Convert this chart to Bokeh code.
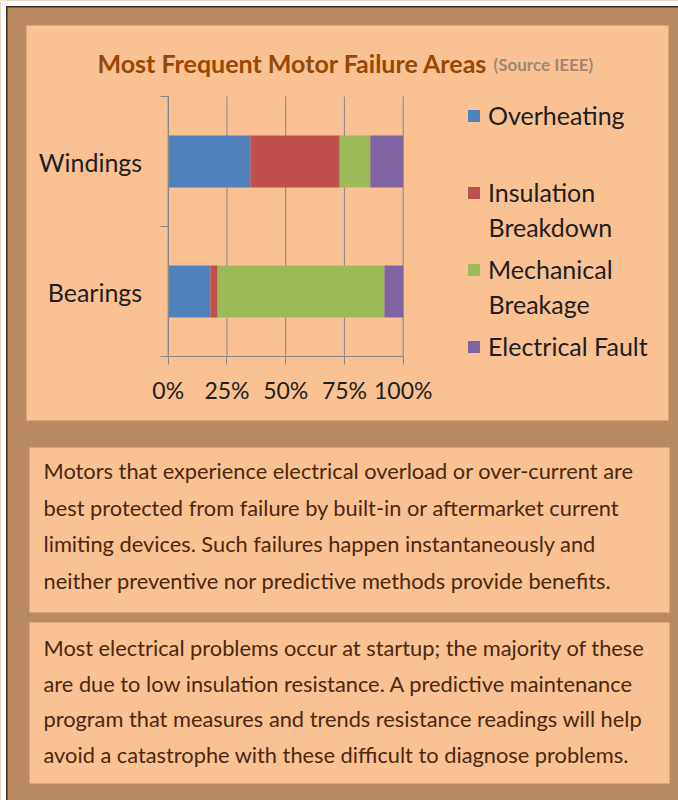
from bokeh.plotting import figure
from bokeh.models import (ColumnDataSource, Range1d, LinearAxis, FixedTicker, BoxAnnotation,
                          Label, Legend, LegendItem)
from bokeh.embed import file_html
from bokeh.resources import INLINE

# ---------------- data ----------------
categories = ["Windings", "Bearings"]
series_keys = ["overheating", "insulation_breakdown", "mechanical_breakage", "electrical_fault"]
overheating = [35, 18]
insulation_breakdown = [38, 3]
mechanical_breakage = [13, 71]
electrical_fault = [14, 8]
series_colors = ["#4F81BD", "#C0504D", "#9BBB59", "#8064A2"]
legend_lines = [["Overheating"], ["Insulation", "Breakdown"], ["Mechanical", "Breakage"], ["Electrical Fault"]]
tick_values = [0, 25, 50, 75, 100]
tick_labels = ["0%", "25%", "50%", "75%", "100%"]
title_text = "Most Frequent Motor Failure Areas"
source_text = "(Source IEEE)"
paragraph_1 = [
    "Motors that experience electrical overload or over-current are",
    "best protected from failure by built-in or aftermarket current",
    "limiting devices. Such failures happen instantaneously and",
    "neither preventive nor predictive methods provide benefits.",
]
paragraph_2 = [
    "Most electrical problems occur at startup; the majority of these",
    "are due to low insulation resistance. A predictive maintenance",
    "program that measures and trends resistance readings will help",
    "avoid a catastrophe with these difficult to diagnose problems.",
]

# ---------------- styles / layout ----------------
BROWN = "#BA8A60"
PEACH = "#FAC192"
GRID = "#868686"
TXT = "#1E1E1E"
PARA = "#4A2810"
TITLE = "#974806"
SOURCE = "#A08772"
FONT = "Lato"

W, H = 678, 800
PL, PR, PT, PB = 167.7, 402.7, 96.0, 356.0      # chart plot area in page pixels
n_cat = len(categories)
xpx = (PR - PL) / (tick_values[-1] - tick_values[0])
ypx = (PB - PT) / n_cat

cat_y = [n_cat - 0.5 - i for i in range(n_cat)]   # band centres, first category on top
edge_ticks = list(range(n_cat + 1))


def sx(x):
    return x


def sy(y):
    return H - y


p = figure(width=W, height=H, min_border=0,
           x_range=Range1d(-PL / xpx, (W - PL) / xpx),
           y_range=Range1d(-(H - PB) / ypx, PB / ypx),
           output_backend="svg", toolbar_location=None,
           x_axis_location=None, y_axis_location=None,
           background_fill_color=BROWN, border_fill_color=BROWN, outline_line_color=None)
p.grid.visible = False


def box(l, t, r, b, color):
    return BoxAnnotation(left=sx(l), right=sx(r), top=sy(t), bottom=sy(b),
                         left_units="screen", right_units="screen",
                         top_units="screen", bottom_units="screen",
                         fill_color=color, fill_alpha=1, line_color=None, level="image")

# page frame and panels
p.add_layout(box(0, 0, W, 5.5, "white"))
p.add_layout(box(0, 0, 5.5, H, "white"))
p.add_layout(box(5.5, 5.5, W, 7, "#3B2A1E"))
p.add_layout(box(5.5, 5.5, 7, H, "#3B2A1E"))
p.add_layout(box(26, 25, 668, 420, PEACH))
p.add_layout(box(29, 447, 669, 612, PEACH))
p.add_layout(box(29, 622, 669, 783, PEACH))

# vertical gridlines over the chart band
p.segment(x0=tick_values, x1=tick_values, y0=[0] * len(tick_values),
          y1=[n_cat] * len(tick_values), line_color=GRID, line_width=1, level="underlay")

# x axis
xaxis = LinearAxis(fixed_location=0, bounds=(tick_values[0], tick_values[-1]),
                   ticker=FixedTicker(ticks=tick_values),
                   major_label_overrides={v: l for v, l in zip(tick_values, tick_labels)},
                   major_tick_out=8, major_tick_in=0, minor_tick_line_color=None,
                   axis_line_color=GRID, major_tick_line_color=GRID,
                   major_label_text_font=FONT, major_label_text_font_size="23px",
                   major_label_text_color=TXT, major_label_standoff=11)
p.add_layout(xaxis, "below")

# y axis: labels at band centres, tick marks at band edges
yaxis = LinearAxis(fixed_location=tick_values[0], bounds=(0, n_cat),
                   ticker=FixedTicker(ticks=cat_y, minor_ticks=edge_ticks),
                   major_label_overrides={y: c for y, c in zip(cat_y, categories)},
                   major_tick_out=0, major_tick_in=0, major_tick_line_color=None,
                   minor_tick_out=8, minor_tick_in=0, minor_tick_line_color=GRID,
                   axis_line_color=GRID, major_label_standoff=18,
                   major_label_text_font=FONT, major_label_text_font_size="25px",
                   major_label_text_color=TXT)
p.add_layout(yaxis, "left")

# bars
data = dict(cat_y=cat_y, category=categories, overheating=overheating,
            insulation_breakdown=insulation_breakdown,
            mechanical_breakage=mechanical_breakage, electrical_fault=electrical_fault)
src = ColumnDataSource(data)
rs = p.hbar_stack(series_keys, y="cat_y", height=0.4, fill_color=series_colors,
                  line_color=None, source=src)

# legend
LH, LSP = 32, 45
legend_top = 99
items = [LegendItem(label=lines[0], renderers=[r]) for lines, r in zip(legend_lines, rs)]
leg_h = len(items) * LH + (len(items) - 1) * LSP
legend = Legend(items=items, location=(466, H - legend_top - leg_h),
                orientation="vertical", padding=0, margin=0, spacing=LSP,
                glyph_width=15, glyph_height=15, label_height=LH, label_standoff=7,
                label_text_font=FONT, label_text_font_size="25px", label_text_color=TXT,
                background_fill_alpha=0, border_line_alpha=0)
p.add_layout(legend)
for k, lines in enumerate(legend_lines):
    c = legend_top + LH / 2 + k * (LH + LSP)
    for j, line in enumerate(lines[1:], start=1):
        p.add_layout(Label(x=sx(488), y=sy(c + 34 * j), x_units="screen", y_units="screen",
                           text=line, text_font=FONT, text_font_size="25px",
                           text_color=TXT, text_baseline="middle"))

# title
p.add_layout(Label(x=sx(97), y=sy(62), x_units="screen", y_units="screen", text=title_text,
                   text_font=FONT, text_font_style="bold", text_font_size="25px",
                   text_color=TITLE, text_baseline="middle"))
p.add_layout(Label(x=sx(493), y=sy(64), x_units="screen", y_units="screen", text=source_text,
                   text_font=FONT, text_font_style="bold", text_font_size="17px",
                   text_color=SOURCE, text_baseline="middle"))

# paragraphs
for lines, ys in ((paragraph_1, [470, 507, 543, 580]), (paragraph_2, [647, 683, 718, 754])):
    for line, y in zip(lines, ys):
        p.add_layout(Label(x=sx(43), y=sy(y), x_units="screen", y_units="screen", text=line,
                           text_font=FONT, text_font_size="21.8px", text_color=PARA,
                           text_baseline="middle"))

open("out.html", "w").write(file_html(p, INLINE))
